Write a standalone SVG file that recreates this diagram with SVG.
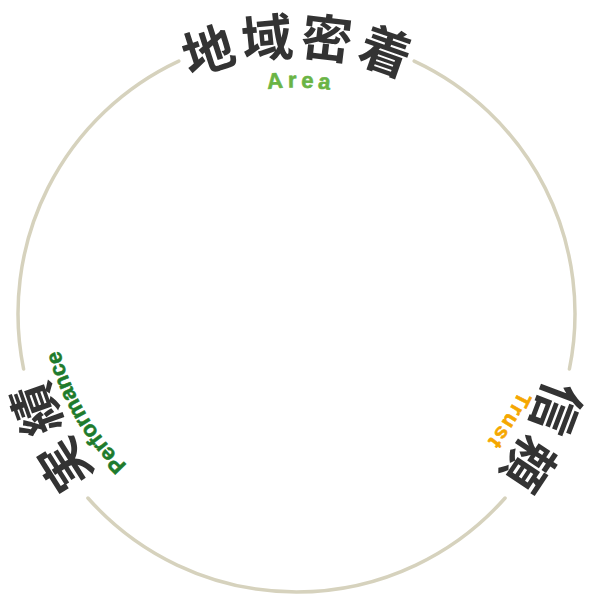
<svg xmlns="http://www.w3.org/2000/svg" width="600" height="600" viewBox="0 0 600 600">
  <style>
    .ring { fill: none; stroke: #d6d2bd; stroke-width: 3.5; stroke-linecap: round; }
    .kanji { font-family: "Noto Sans CJK JP", "Noto Sans", sans-serif; font-weight: 700; font-size: 51px; fill: #333333; }
    .latin { font-family: "Liberation Sans", Arial, sans-serif; font-weight: 700; stroke-width: 0.6; stroke-linejoin: round; }
  </style>
  <defs>
    <path id="pKanji" d="M296.5,571.5 A258,258 0 1 1 296.5,55.5 A258,258 0 1 1 296.5,571.5"/>
    <path id="pArea" d="M296.5,539.5 A226,226 0 1 1 296.5,87.5 A226,226 0 1 1 296.5,539.5"/>
    <path id="pSide" d="M296.5,533 A245,245 0 1 1 296.5,43 A245,245 0 1 1 296.5,533"/>
  </defs>
  <rect width="600" height="600" fill="#ffffff"/>
  <g id="connectors">
    <path class="ring" d="M414.2,61.1 A278.5,278.5 0 0 1 569.4,369.0"/>
    <path class="ring" d="M505.1,498.0 A278.5,278.5 0 0 1 87.9,498.0"/>
    <path class="ring" d="M23.6,369.0 A278.5,278.5 0 0 1 178.8,61.1"/>
  </g>
  <g id="area">
    <text class="kanji" letter-spacing="5" text-anchor="middle"><textPath href="#pKanji" startOffset="813">地域密着</textPath></text>
    <text class="latin" font-size="22" letter-spacing="4.5" fill="#6ab445" stroke="#6ab445" text-anchor="middle"><textPath href="#pArea" startOffset="714.2">Area</textPath></text>
  </g>
  <g id="trust">
    <text class="kanji" letter-spacing="7" text-anchor="middle"><textPath href="#pKanji" startOffset="1337.7">信頼</textPath></text>
    <text class="latin" font-size="21" letter-spacing="2" fill="#f5a700" stroke="#f5a700" text-anchor="middle"><textPath href="#pSide" startOffset="1290.9">Trust</textPath></text>
  </g>
  <g id="performance">
    <text class="kanji" letter-spacing="7" text-anchor="middle"><textPath href="#pKanji" startOffset="288.3">実績</textPath></text>
    <text class="latin" font-size="22" fill="#1e7b2c" stroke="#1e7b2c" text-anchor="middle"><textPath href="#pSide" startOffset="254.4">Performance</textPath></text>
  </g>
</svg>
